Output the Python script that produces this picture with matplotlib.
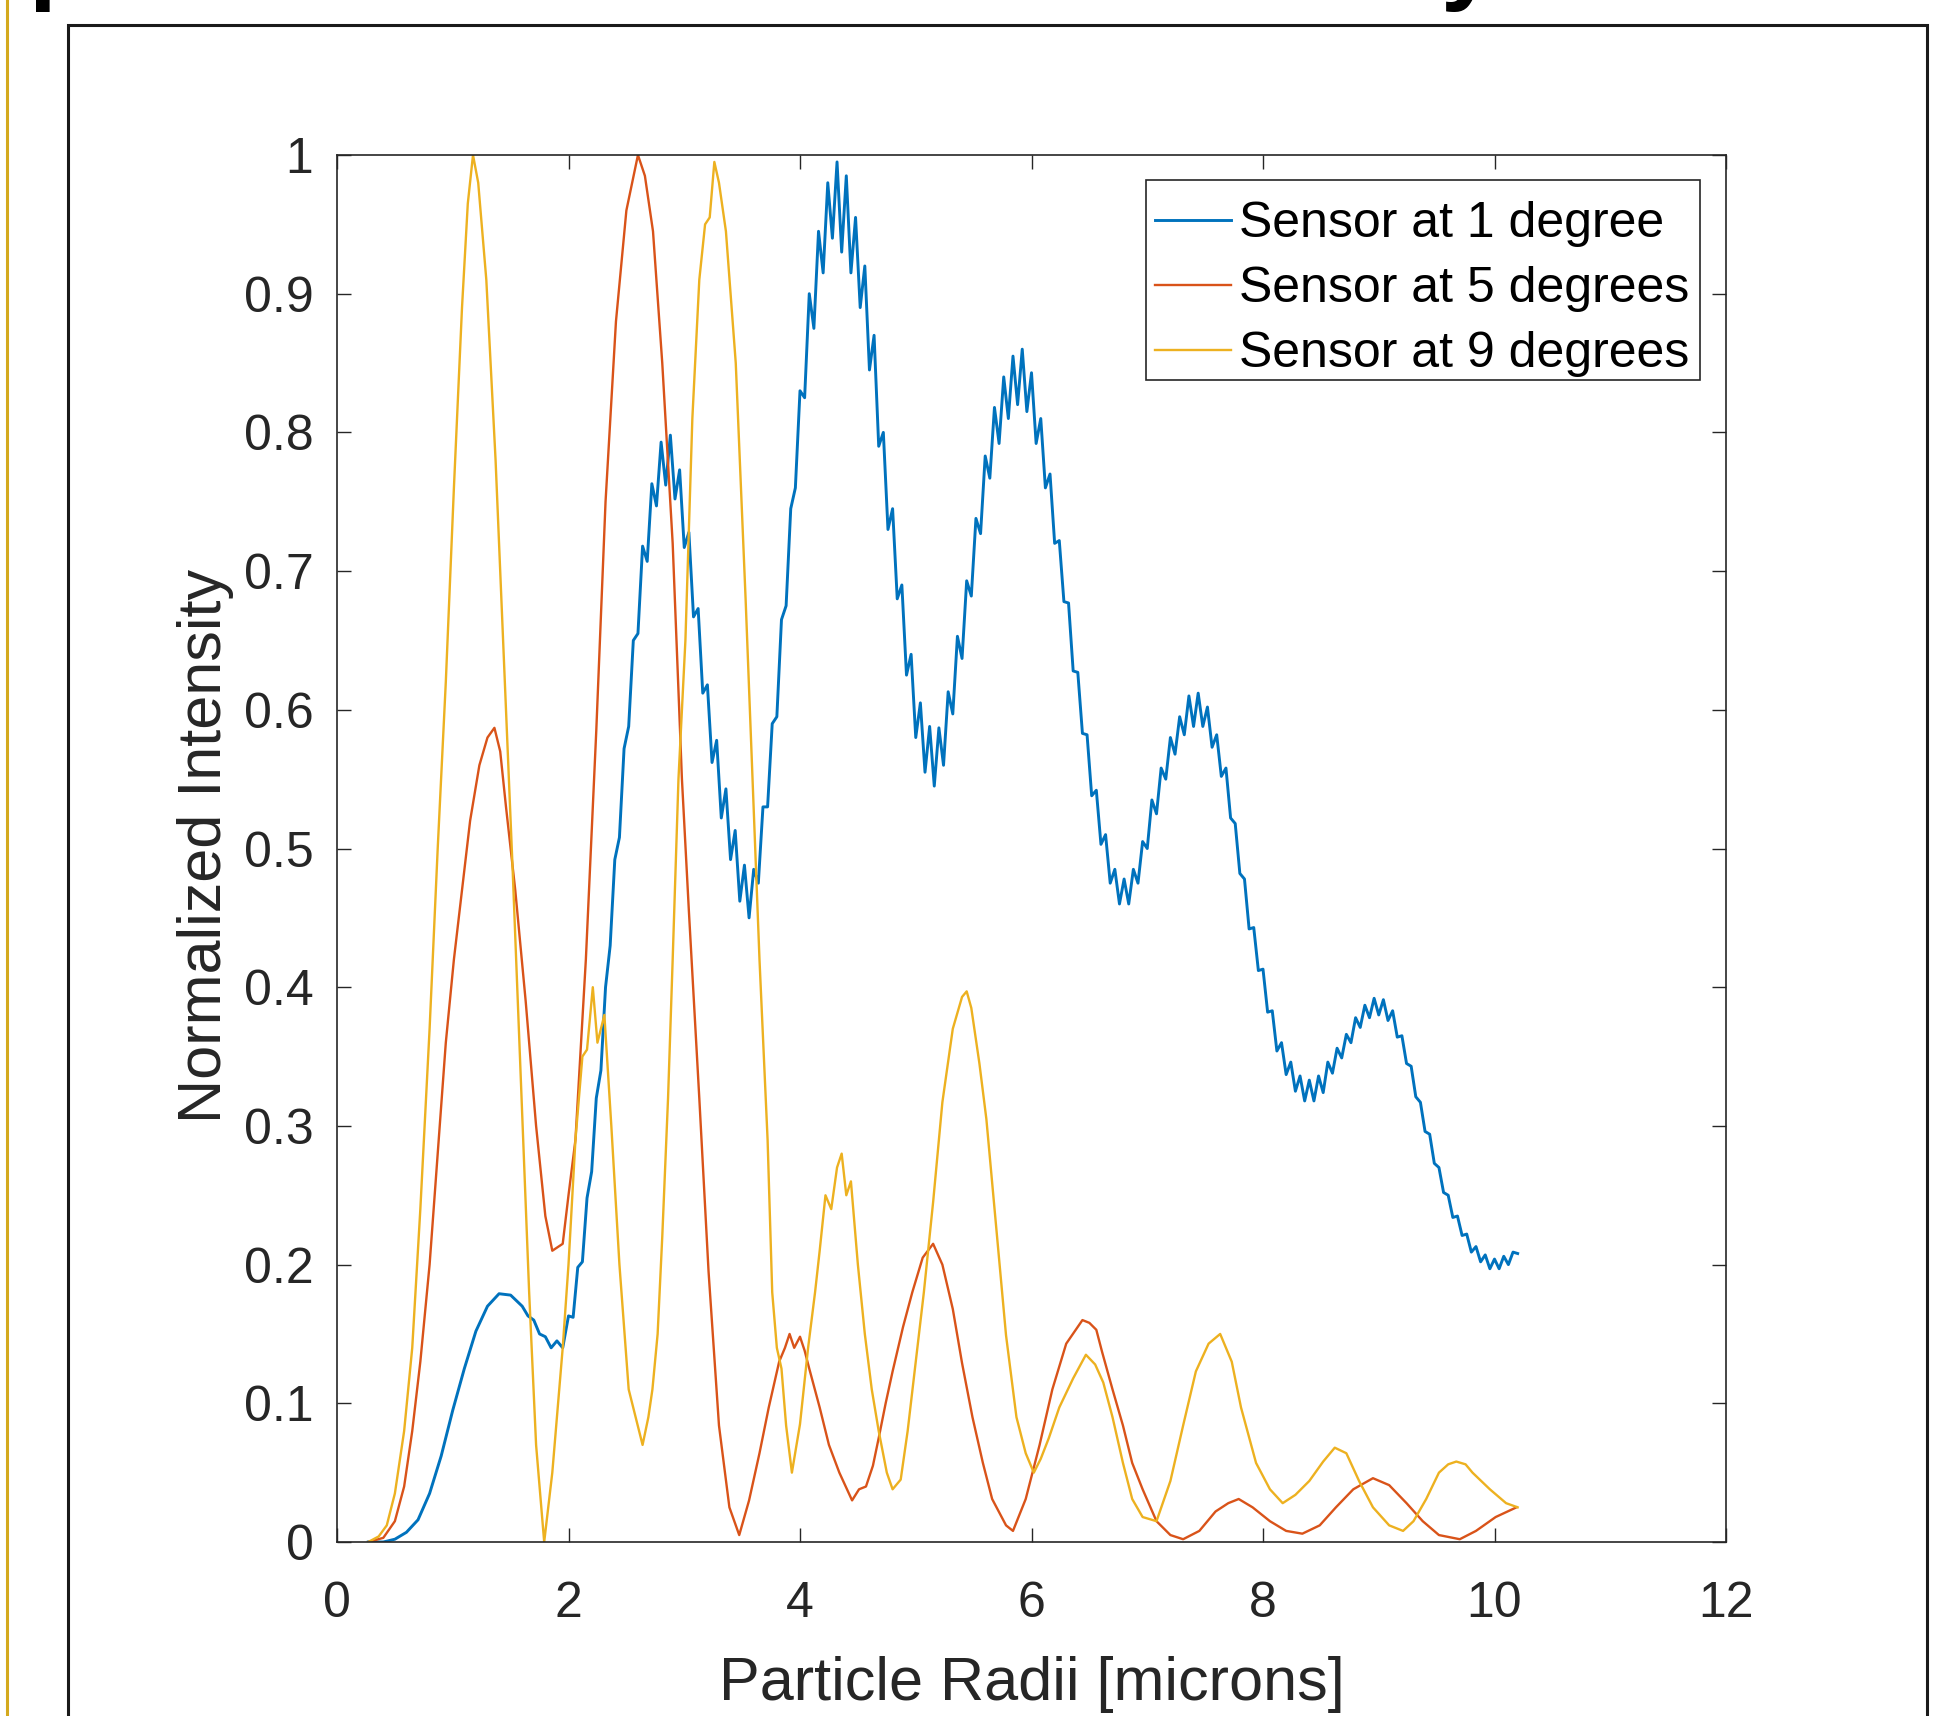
import matplotlib

matplotlib.use("Agg")
import matplotlib.pyplot as plt
import numpy as np
from matplotlib.lines import Line2D
from matplotlib.patches import Rectangle

plt.rcParams["font.family"] = ["Liberation Sans", "DejaVu Sans"]

BLUE = "#0072BD"
RED = "#D95319"
GOLD = "#EDB120"
INK = "#262626"

# sensor at 1 degree, small radii (read every ~0.1 um)
blue_x_head = [0.27, 0.4, 0.5, 0.6, 0.7, 0.8, 0.9, 1.0, 1.1, 1.2, 1.3, 1.4, 1.5,
               1.6, 1.65, 1.7, 1.75, 1.8, 1.85, 1.9, 1.95]
blue_y_head = [0.0, 0.0, 0.002, 0.007, 0.016, 0.035, 0.062, 0.095, 0.125, 0.152,
               0.17, 0.179, 0.178, 0.17, 0.163, 0.16, 0.15, 0.148, 0.14, 0.145, 0.14]
# from 2 um on the trace ripples, read every 0.04 um
blue_y_tail = [
    0.163, 0.162, 0.198, 0.202, 0.248, 0.267, 0.32, 0.34, 0.40, 0.43,
    0.492, 0.508, 0.572, 0.588, 0.65, 0.655, 0.718, 0.707, 0.763, 0.747,
    0.793, 0.762, 0.798, 0.752, 0.773, 0.717, 0.728, 0.667, 0.673, 0.612,
    0.618, 0.562, 0.578, 0.522, 0.543, 0.492, 0.513, 0.462, 0.488, 0.45,
    0.485, 0.475, 0.53, 0.53, 0.59, 0.595, 0.665, 0.675, 0.745, 0.76,
    0.83, 0.825, 0.90, 0.875, 0.945, 0.915, 0.98, 0.94, 0.995, 0.93,
    0.985, 0.915, 0.955, 0.89, 0.92, 0.845, 0.87, 0.79, 0.80, 0.73,
    0.745, 0.68, 0.69, 0.625, 0.64, 0.58, 0.605, 0.555, 0.588, 0.545,
    0.587, 0.56, 0.613, 0.597, 0.653, 0.637, 0.693, 0.682, 0.738, 0.727,
    0.783, 0.767, 0.818, 0.792, 0.84, 0.81, 0.855, 0.82, 0.86, 0.815,
    0.843, 0.792, 0.81, 0.76, 0.77, 0.72, 0.722, 0.678, 0.677, 0.628,
    0.627, 0.583, 0.582, 0.538, 0.542, 0.503, 0.51, 0.475, 0.485, 0.46,
    0.478, 0.46, 0.485, 0.475, 0.505, 0.50, 0.535, 0.525, 0.558, 0.55,
    0.58, 0.568, 0.595, 0.582, 0.61, 0.588, 0.612, 0.588, 0.602, 0.573,
    0.582, 0.552, 0.558, 0.522, 0.518, 0.482, 0.478, 0.442, 0.443, 0.412,
    0.413, 0.382, 0.383, 0.354, 0.36, 0.337, 0.346, 0.325, 0.336, 0.318,
    0.333, 0.318, 0.336, 0.324, 0.346, 0.338, 0.356, 0.349, 0.366, 0.36,
    0.378, 0.371, 0.387, 0.378, 0.392, 0.38, 0.391, 0.376, 0.383, 0.364,
    0.365, 0.345, 0.343, 0.321, 0.317, 0.296, 0.294, 0.273, 0.27, 0.252,
    0.25, 0.234, 0.235, 0.221, 0.222, 0.209, 0.213, 0.202, 0.207, 0.197,
    0.204, 0.197, 0.206, 0.2, 0.209, 0.208,
]
blue_x_tail = 2.0 + 0.04 * np.arange(len(blue_y_tail))

# sensor at 5 degrees
red_x = [0.27, 0.4, 0.5, 0.58, 0.65, 0.72, 0.8, 0.87, 0.94, 1.01,
         1.08, 1.15, 1.23, 1.3, 1.36, 1.41, 1.46, 1.54, 1.63, 1.72,
         1.8, 1.86, 1.95, 2.0, 2.06, 2.15, 2.24, 2.32, 2.41, 2.5,
         2.6, 2.66, 2.73, 2.81, 2.9, 2.98, 3.04, 3.13, 3.21, 3.3,
         3.39, 3.475, 3.56, 3.65, 3.73, 3.82, 3.87, 3.91, 3.95, 4.0,
         4.04, 4.08, 4.17, 4.25, 4.34, 4.45, 4.51, 4.57, 4.63, 4.68,
         4.74, 4.8, 4.89, 4.97, 5.06, 5.15, 5.23, 5.32, 5.4, 5.49,
         5.58, 5.66, 5.78, 5.84, 5.95, 6.07, 6.18, 6.3, 6.44, 6.5,
         6.56, 6.61, 6.7, 6.79, 6.87, 6.96, 7.08, 7.2, 7.31, 7.45,
         7.59, 7.7, 7.79, 7.91, 8.06, 8.2, 8.34, 8.49, 8.63, 8.78,
         8.95, 9.09, 9.24, 9.38, 9.52, 9.7, 9.84, 10.01, 10.19]
red_y = [0.0, 0.003, 0.015, 0.04, 0.08, 0.13, 0.2, 0.28, 0.36, 0.42,
         0.47, 0.52, 0.56, 0.58, 0.587, 0.57, 0.53, 0.47, 0.39, 0.3,
         0.235, 0.21, 0.215, 0.25, 0.29, 0.42, 0.585, 0.75, 0.88, 0.96,
         1.0, 0.985, 0.945, 0.85, 0.72, 0.55, 0.455, 0.32, 0.195, 0.084,
         0.025, 0.005, 0.03, 0.064, 0.097, 0.13, 0.14, 0.15, 0.14, 0.148,
         0.138, 0.125, 0.097, 0.07, 0.05, 0.03, 0.038, 0.04, 0.055, 0.075,
         0.1, 0.123, 0.155, 0.18, 0.205, 0.215, 0.2, 0.168, 0.129, 0.09,
         0.057, 0.031, 0.012, 0.008, 0.031, 0.07, 0.11, 0.143, 0.16, 0.158,
         0.153, 0.137, 0.11, 0.084, 0.057, 0.038, 0.015, 0.005, 0.002, 0.008,
         0.022, 0.028, 0.031, 0.025, 0.015, 0.008, 0.006, 0.012, 0.025, 0.038,
         0.046, 0.041, 0.028, 0.015, 0.005, 0.002, 0.008, 0.018, 0.025]

# sensor at 9 degrees
gold_x = [0.27, 0.36, 0.43, 0.5, 0.58, 0.65, 0.72, 0.8, 0.87, 0.94,
          1.01, 1.08, 1.13, 1.175, 1.22, 1.29, 1.37, 1.44, 1.515, 1.59,
          1.66, 1.72, 1.79, 1.86, 1.95, 2.0, 2.06, 2.12, 2.16, 2.21,
          2.25, 2.31, 2.37, 2.44, 2.52, 2.58, 2.64, 2.69, 2.725, 2.77,
          2.81, 2.86, 2.9, 2.95, 3.01, 3.07, 3.13, 3.18, 3.22, 3.26,
          3.3, 3.36, 3.445, 3.53, 3.59, 3.65, 3.72, 3.76, 3.8, 3.84,
          3.88, 3.93, 4.0, 4.07, 4.13, 4.17, 4.22, 4.27, 4.32, 4.36,
          4.4, 4.44, 4.5, 4.56, 4.62, 4.68, 4.75, 4.8, 4.87, 4.93,
          5.0, 5.07, 5.15, 5.23, 5.32, 5.4, 5.44, 5.48, 5.55, 5.61,
          5.69, 5.78, 5.87, 5.95, 6.02, 6.08, 6.15, 6.24, 6.36, 6.47,
          6.55, 6.62, 6.7, 6.79, 6.87, 6.96, 7.08, 7.2, 7.31, 7.42,
          7.53, 7.63, 7.73, 7.81, 7.94, 8.06, 8.17, 8.28, 8.4, 8.52,
          8.62, 8.72, 8.83, 8.95, 9.09, 9.21, 9.3, 9.41, 9.52, 9.6,
          9.67, 9.75, 9.81, 9.96, 10.1, 10.2]
gold_y = [0.0, 0.004, 0.012, 0.035, 0.08, 0.14, 0.24, 0.37, 0.5, 0.62,
          0.76, 0.89, 0.965, 1.0, 0.98, 0.91, 0.78, 0.64, 0.49, 0.33,
          0.18, 0.07, 0.0, 0.05, 0.14, 0.2, 0.29, 0.35, 0.355, 0.4,
          0.36, 0.38, 0.3, 0.2, 0.11, 0.09, 0.07, 0.09, 0.11, 0.15,
          0.22, 0.32, 0.42, 0.55, 0.65, 0.81, 0.91, 0.95, 0.955, 0.995,
          0.98, 0.945, 0.85, 0.68, 0.55, 0.42, 0.29, 0.18, 0.14, 0.125,
          0.084, 0.05, 0.085, 0.14, 0.18, 0.21, 0.25, 0.24, 0.27, 0.28,
          0.25, 0.26, 0.2, 0.15, 0.11, 0.08, 0.05, 0.038, 0.045, 0.08,
          0.13, 0.18, 0.245, 0.317, 0.37, 0.393, 0.397, 0.385, 0.345, 0.305,
          0.232, 0.149, 0.09, 0.064, 0.05, 0.06, 0.075, 0.097, 0.118, 0.135,
          0.128, 0.115, 0.09, 0.057, 0.031, 0.018, 0.015, 0.044, 0.084, 0.123,
          0.143, 0.15, 0.13, 0.097, 0.057, 0.038, 0.028, 0.034, 0.044, 0.058,
          0.068, 0.064, 0.044, 0.025, 0.012, 0.008, 0.015, 0.031, 0.05, 0.056,
          0.058, 0.056, 0.05, 0.038, 0.028, 0.025]

x_ticks = [0, 2, 4, 6, 8, 10, 12]
y_ticks = [0.0, 0.1, 0.2, 0.3, 0.4, 0.5, 0.6, 0.7, 0.8, 0.9, 1.0]
y_tick_labels = ["0", "0.1", "0.2", "0.3", "0.4", "0.5", "0.6", "0.7", "0.8", "0.9", "1"]
series_labels = ["Sensor at 1 degree", "Sensor at 5 degrees", "Sensor at 9 degrees"]

W, H = 1937, 1716
fig = plt.figure(figsize=(W / 100, H / 100), dpi=100)

# slide decorations: gold rule on the left, figure frame, clipped title descenders
fig.add_artist(Line2D([7 / W, 7 / W], [0, 1], color="#D4A91E", lw=2.2,
                      transform=fig.transFigure))
fig.add_artist(Rectangle((68 / W, -0.01), (1927 - 68) / W, 1 - 25 / H + 0.01,
                         fill=False, ec="#1a1a1a", lw=2.2, transform=fig.transFigure))
fig.text(28 / W, 1 + 9 / H, "p", fontsize=72, fontweight="bold", va="baseline", ha="left")
fig.text(1440 / W, 1 + 9 / H, "y", fontsize=72, fontweight="bold", va="baseline", ha="left")

ax = fig.add_axes([337 / W, 1 - 1542 / H, 1389 / W, 1387 / H])
ax.plot(list(blue_x_head) + list(blue_x_tail), blue_y_head + blue_y_tail,
        color=BLUE, lw=2.1, label=series_labels[0])
ax.plot(red_x, red_y, color=RED, lw=1.7, label=series_labels[1])
ax.plot(gold_x, gold_y, color=GOLD, lw=1.7, label=series_labels[2])

ax.set_xlim(0, 12)
ax.set_ylim(0, 1)
ax.set_xticks(x_ticks)
ax.set_xticklabels([str(t) for t in x_ticks])
ax.set_yticks(y_ticks)
ax.set_yticklabels(y_tick_labels)
ax.tick_params(direction="in", length=10, width=1.0, top=True, right=True,
               labelsize=36, colors=INK)
ax.tick_params(axis="x", pad=28)
ax.tick_params(axis="y", pad=17)
for sp in ax.spines.values():
    sp.set_color(INK)
    sp.set_linewidth(1.2)

ax.set_xlabel("Particle Radii [microns]", fontsize=44, color=INK)
ax.set_ylabel("Normalized Intensity", fontsize=44, color=INK)
ax.xaxis.set_label_coords(0.5, -0.082)
ax.yaxis.set_label_coords(-0.0745, 0.502)

# legend box drawn separately so its padding can match the MATLAB one
ax.add_patch(Rectangle((0.5824, 0.8378), 0.3989, 0.1442, transform=ax.transAxes,
                       facecolor="white", edgecolor=INK, lw=1.2, zorder=4))
leg = ax.legend(loc="upper left", bbox_to_anchor=(0.5889, 0.9668), borderaxespad=0,
                fontsize=36, frameon=False, handlelength=1.52, handletextpad=0.17,
                borderpad=0, labelspacing=0.38)
leg.set_zorder(5)

fig.savefig("out.png", dpi=100)
